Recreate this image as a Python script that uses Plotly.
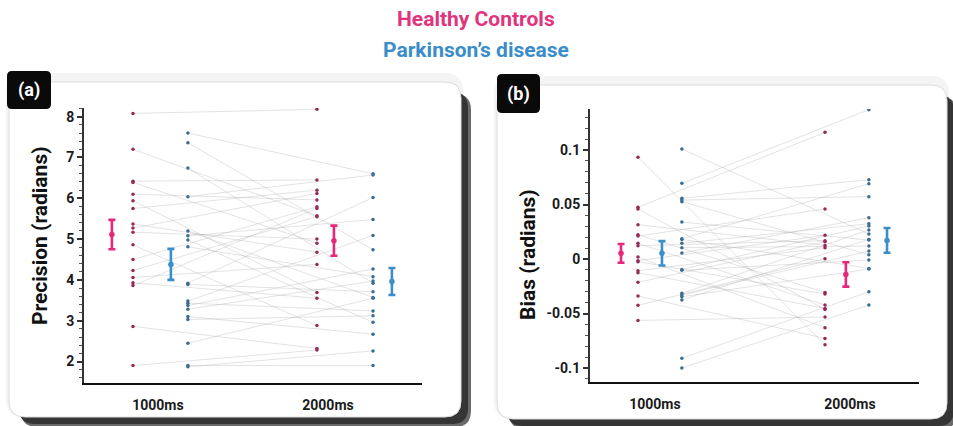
import plotly.graph_objects as go

# ---------------- data ----------------
conditions = ["1000ms", "2000ms"]

# Panel (a): precision (radians), paired per participant (1000ms -> 2000ms)
hc_prec_1000 = [8.08, 7.20, 6.42, 6.39, 6.10, 5.94, 5.75, 5.37, 5.27, 5.17, 4.86, 4.50, 4.23, 4.06, 3.93, 3.86, 2.86, 1.90]
hc_prec_2000 = [8.18, 5.57, 6.45, 4.90, 5.96, 3.69, 6.20, 4.68, 6.12, 5.00, 2.88, 5.79, 5.55, 4.38, 3.55, 5.75, 2.32, 2.28]
pd_prec_1000 = [7.60, 7.36, 6.74, 6.04, 5.20, 5.08, 4.98, 4.81, 3.92, 3.89, 3.48, 3.43, 3.37, 3.28, 3.10, 3.03, 2.45, 1.90, 1.87]
pd_prec_2000 = [6.60, 4.74, 3.92, 6.57, 3.57, 5.48, 2.96, 4.08, 6.02, 3.71, 5.09, 3.24, 4.27, 3.97, 2.67, 3.12, 3.55, 1.90, 2.26]
hc_prec_mean = [5.11, 4.96]
hc_prec_se = [0.36, 0.37]
pd_prec_mean = [4.38, 3.96]
pd_prec_se = [0.38, 0.33]

# Panel (b): bias (radians)
hc_bias_1000 = [0.0933, 0.0474, 0.0459, 0.0315, 0.0223, 0.0211, 0.0144, 0.0122, 0.0018, -0.0015, -0.0024, -0.0107, -0.0125, -0.0214, -0.0339, -0.0425, -0.0563]
hc_bias_2000 = [-0.0786, 0.1162, -0.0462, 0.0125, -0.0306, 0.0459, -0.0422, 0.0168, -0.0630, 0.0217, -0.0321, 0.0104, -0.0453, 0.0159, -0.0728, 0.0003, -0.0532]
pd_bias_1000 = [0.1009, 0.0694, 0.0557, 0.0541, 0.0526, 0.0339, 0.0186, 0.0180, 0.0144, 0.0104, 0.0055, -0.0095, -0.0104, -0.0315, -0.0330, -0.0346, -0.0376, -0.0911, -0.1000]
pd_bias_2000 = [0.0229, 0.1370, 0.0728, 0.0572, 0.0040, 0.0174, 0.0691, -0.0086, 0.0324, 0.0119, 0.0379, 0.0303, -0.0009, 0.0266, 0.0073, -0.0092, 0.0180, -0.0300, -0.0422]
hc_bias_mean = [0.0052, -0.0141]
hc_bias_se = [0.0086, 0.0112]
pd_bias_mean = [0.0052, 0.0171]
pd_bias_se = [0.0112, 0.0113]

prec_ticks = [2, 3, 4, 5, 6, 7, 8]
prec_ticktext = ["2", "3", "4", "5", "6", "7", "8"]
bias_ticks = [-0.1, -0.05, 0, 0.05, 0.1]
bias_ticktext = ["-0.1", "-0.05", "0", "0.05", "0.1"]

# ---------------- style ----------------
W, H = 953, 426
FONT = "Roboto, DejaVu Sans Condensed, sans-serif"
HC_PT = "#952a58"
PD_PT = "#3d6d8e"
HC_MEAN = "#e5287b"
PD_MEAN = "#3a8fcb"
LINE_C = "rgba(170,170,170,0.42)"

def px(x):
    return x / W

def py(y):
    return 1 - y / H

def rrect(x0, y0, x1, y1, r):
    rx, ry = r / W, r / H
    X0, X1 = px(x0), px(x1)
    Y0, Y1 = py(y0), py(y1)
    return (f"M {X0+rx},{Y0} L {X1-rx},{Y0} Q {X1},{Y0} {X1},{Y0-ry} "
            f"L {X1},{Y1+ry} Q {X1},{Y1} {X1-rx},{Y1} L {X0+rx},{Y1} "
            f"Q {X0},{Y1} {X0},{Y1+ry} L {X0},{Y0-ry} Q {X0},{Y0} {X0+rx},{Y0} Z")

# x offsets (style) relative to the condition position
OFF_A = dict(hc_pt=[-0.147, -0.065], pd_pt=[0.176, 0.265], hc_m=[-0.271, 0.035], pd_m=[0.076, 0.376])
OFF_B = dict(hc_pt=[-0.087, -0.128], pd_pt=[0.138, 0.097], hc_m=[-0.174, -0.021], pd_m=[0.036, 0.190])

fig = go.Figure()

def add_panel(xa, ya, hc1, hc2, pd1, pd2, hcm, hcs, pdm, pds, off):
    pos = [1, 2]
    for a, b, k in ((hc1, hc2, "hc_pt"), (pd1, pd2, "pd_pt")):
        xs, ys = [], []
        for v1, v2 in zip(a, b):
            xs += [pos[0] + off[k][0], pos[1] + off[k][1], None]
            ys += [v1, v2, None]
        fig.add_trace(go.Scatter(x=xs, y=ys, mode="lines", xaxis=xa, yaxis=ya,
                                 line=dict(color=LINE_C, width=0.8), hoverinfo="skip", showlegend=False))
    for a, b, k, c in ((hc1, hc2, "hc_pt", HC_PT), (pd1, pd2, "pd_pt", PD_PT)):
        xs = [pos[0] + off[k][0]] * len(a) + [pos[1] + off[k][1]] * len(b)
        fig.add_trace(go.Scatter(x=xs, y=list(a) + list(b), mode="markers", xaxis=xa, yaxis=ya,
                                 marker=dict(color=c, size=3.5), showlegend=False))
    for m, s, k, c in ((hcm, hcs, "hc_m", HC_MEAN), (pdm, pds, "pd_m", PD_MEAN)):
        xs = [pos[i] + off[k][i] for i in range(2)]
        fig.add_trace(go.Scatter(x=xs, y=m, mode="markers", xaxis=xa, yaxis=ya,
                                 marker=dict(color=c, size=5.5),
                                 error_y=dict(type="data", array=s, visible=True, color=c, thickness=2.6, width=3.5),
                                 showlegend=False))

add_panel("x", "y", hc_prec_1000, hc_prec_2000, pd_prec_1000, pd_prec_2000,
          hc_prec_mean, hc_prec_se, pd_prec_mean, pd_prec_se, OFF_A)
add_panel("x2", "y2", hc_bias_1000, hc_bias_2000, pd_bias_1000, pd_bias_2000,
          hc_bias_mean, hc_bias_se, pd_bias_mean, pd_bias_se, OFF_B)

xfont = dict(family=FONT, size=14, color="#1a1a1a", weight="bold")
yfont = dict(family=FONT, size=14, color="#1a1a1a", weight="bold")
xcommon = dict(tickvals=[1, 2], ticktext=conditions, showline=True, linecolor="#111", linewidth=2,
               ticks="", showgrid=False, zeroline=False, tickfont=xfont, ticklabelstandoff=8, fixedrange=True)
ycommon = dict(showline=True, linecolor="#333", linewidth=2, ticks="outside", ticklen=5, tickwidth=1.5,
               tickcolor="#333", showgrid=False, zeroline=False, tickfont=yfont, fixedrange=True)

fig.update_layout(
    width=W, height=H, margin=dict(l=0, r=0, t=0, b=0),
    paper_bgcolor="white", plot_bgcolor="rgba(0,0,0,0)",
    xaxis=dict(domain=[px(84), px(422)], range=[0.565, 2.553], anchor="y", **xcommon),
    yaxis=dict(domain=[py(383), py(108)], range=[1.473, 8.213], anchor="x",
               tickvals=prec_ticks, ticktext=prec_ticktext,
               minor=dict(dtick=0.2, ticklen=3, ticks="outside", tickcolor="#555", tickwidth=1), **ycommon),
    xaxis2=dict(domain=[px(590), px(919)], range=[0.667, 2.354], anchor="y2", **xcommon),
    yaxis2=dict(domain=[py(382), py(109)], range=[-0.1128, 0.1376], anchor="x2",
                tickvals=bias_ticks, ticktext=bias_ticktext,
                minor=dict(dtick=0.01, ticklen=3, ticks="outside", tickcolor="#555", tickwidth=1), **ycommon),
)

shapes = []
for (x0, y0, x1, y1) in ((9, 82, 461, 417), (497, 85, 947, 419)):
    shapes.append(dict(type="path", path=rrect(x0 - 3, y0 - 9, x1 + 2, y1, 18), xref="paper", yref="paper",
                       fillcolor="#f4f4f4", line=dict(width=0), layer="below"))
    shapes.append(dict(type="path", path=rrect(x0 + 12, y0 + 12, x1 + 10, y1 + 10, 16), xref="paper", yref="paper",
                       fillcolor="#6a6a6a", line=dict(width=0), layer="below"))
    shapes.append(dict(type="path", path=rrect(x0 + 10, y0 + 10, x1 + 7, y1 + 7, 16), xref="paper", yref="paper",
                       fillcolor="#353535", line=dict(width=0), layer="below"))
    shapes.append(dict(type="path", path=rrect(x0, y0, x1, y1, 16), xref="paper", yref="paper",
                       fillcolor="white", line=dict(color="#dcdcdc", width=1), layer="below"))
# panel label boxes
for (x0, y0, x1, y1) in ((7, 71, 51, 109), (497, 74, 540, 113)):
    shapes.append(dict(type="path", path=rrect(x0, y0, x1, y1, 5), xref="paper", yref="paper",
                       fillcolor="#0a0a0a", line=dict(width=0), layer="above"))
fig.update_layout(shapes=shapes)

def A(text, x, y, size, color, family=FONT, angle=0):
    return dict(text=text, x=px(x), y=py(y), xref="paper", yref="paper", xanchor="center", yanchor="middle",
                showarrow=False, textangle=angle, font=dict(family=family, size=size, color=color))

ann = [
    A("<b>Healthy Controls</b>", 476, 19, 21, "#e0347d"),
    A("<b>Parkinson’s disease</b>", 476, 50, 21, "#3a8dc8"),
    A("<b>(a)</b>", 29, 90, 18, "white"),
    A("<b>(b)</b>", 518.5, 93.5, 18, "white"),
    A("<b>Precision (radians)</b>", 40, 236, 21, "#111", angle=-90),
    A("<b>Bias (radians)</b>", 528, 255, 21, "#111", angle=-90),
]
fig.update_layout(annotations=ann)

fig.write_html("out.html", config={"displayModeBar": False},
               post_script="document.body.style.margin='0';")
